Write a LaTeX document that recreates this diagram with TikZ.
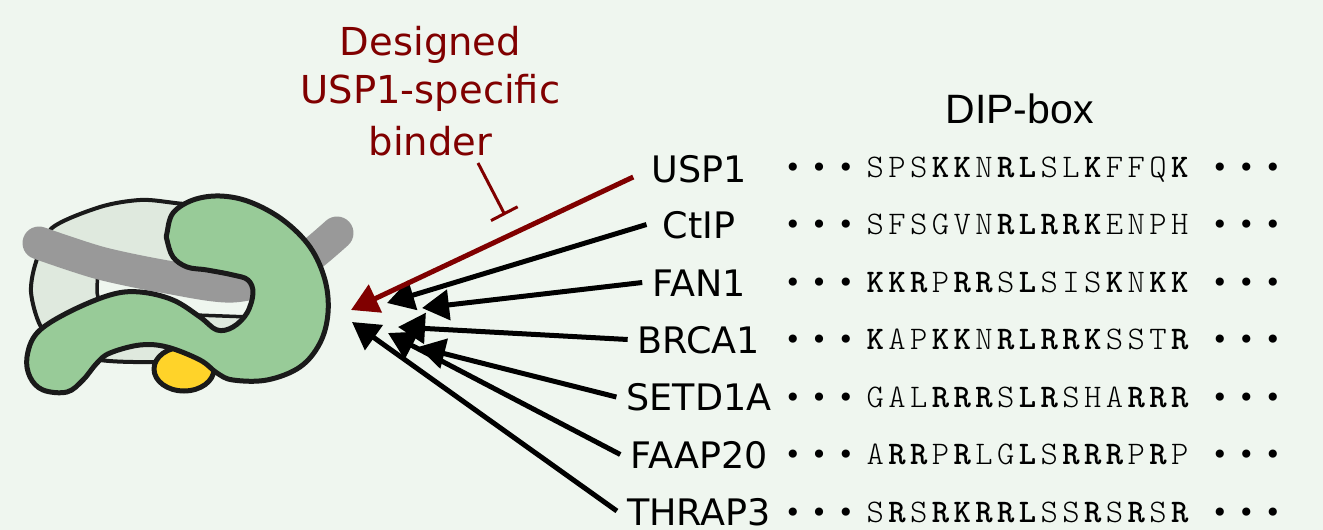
\documentclass[tikz,border=0pt]{standalone}
\usepackage{fontspec}
\usetikzlibrary{arrows.meta}

\newfontfamily\labelfont{DejaVu Sans}
\newfontfamily\headfont{Liberation Sans}

\definecolor{bgmint}{RGB}{239,246,239}
\definecolor{palebody}{RGB}{223,233,222}
\definecolor{protgreen}{RGB}{152,203,152}
\definecolor{linkergrey}{RGB}{153,153,153}
\definecolor{yolk}{RGB}{255,211,41}
\definecolor{inkdark}{RGB}{26,26,26}
\definecolor{binderred}{RGB}{128,0,0}

% fixed-pitch residue columns
\newlength\respitch \setlength\respitch{21.75pt}
\newlength\dotpitch \setlength\dotpitch{26.5pt}
\makeatletter
\newcommand\resrun[2]{\@tfor\res@ch:=#2\do{\makebox[#1]{\res@ch}}}
\makeatother
\newcommand\resN[1]{{\fontseries{l}\selectfont\resrun{\respitch}{#1}}}
\newcommand\resB[1]{{\fontseries{b}\selectfont\resrun{\respitch}{#1}}}
\newcommand\elide{{\labelfont\fontsize{28}{28}\selectfont\raisebox{-0.4pt}{\resrun{\dotpitch}{•••}}}}

\begin{document}
\begin{tikzpicture}[x=1pt,y=-1pt,
  outlined/.style={draw=inkdark, line join=round},
  gene/.style={font=\labelfont\fontsize{36.5}{36.5}\selectfont, inner xsep=10pt,
    inner ysep=0pt, text height=27pt, text depth=0pt, anchor=base},
  seqrow/.style={font=\fontfamily{lmtt}\fontsize{33}{33}\selectfont,
    inner sep=0pt, anchor=base west},
  titleline/.style={font=\labelfont\fontsize{38.5}{38.5}\selectfont,
    text=binderred, inner sep=0pt, anchor=base},
  blackarrow/.style={draw=black, line width=5pt, -{Triangle[length=27pt,width=30pt]}},
  redarrow/.style={draw=binderred, line width=5pt, -{Triangle[length=27pt,width=30pt]}},
]
\useasboundingbox (0,0) rectangle (1323,530);
\fill[bgmint] (0,0) rectangle (1323,530);

% ---- protein cartoon ----
% pale core domain
\draw[outlined, fill=palebody, line width=4pt] plot[smooth cycle] coordinates
  {(31,292) (36,262) (52,228) (100,207) (140,200) (175,203) (260,215) (310,250)
   (325,290) (305,335) (250,358) (157,362) (100,360) (60,348) (40,325)};
% lighter inner face
\draw[outlined, fill=bgmint, line width=3.5pt]
  (98,262) -- (97,290) .. controls (97,306) and (110,312) .. (140,313)
  -- (250,317) -- (258,288) -- (167,277) -- cycle;
% grey linker
\draw[linkergrey, line width=33pt, line cap=round] plot[smooth] coordinates
  {(39,243) (100,263) (167,277) (233,286) (290,270) (337,233)};
% yellow lobe
\draw[outlined, fill=yolk, line width=5pt] (184,369) ellipse [x radius=30, y radius=22];
% green hook domain
\draw[outlined, fill=protgreen, line width=5pt] plot[smooth cycle, tension=0.6] coordinates
  {(167,233) (173,213) (193,200) (220,196) (250,202) (283,220) (310,247) (325,280)
   (328,313) (320,343) (300,367) (267,380) (233,380) (217,373) (200,360) (167,347)
   (140,345) (110,353) (97,363) (83,380) (67,392) (43,390) (30,377) (27,357)
   (37,333) (67,313) (110,295) (140,292) (173,300) (200,317) (217,330) (233,327)
   (247,313) (253,293) (248,280) (233,275) (207,270) (187,267) (173,257) (167,240)};

% ---- binder label and inhibition mark ----
\node[titleline] (t1) at (430.5,55) {Designed};
\node[titleline] (t2) at (430.5,103) {USP1-specific};
\node[titleline] (t3) at (430.5,155) {binder};
\coordinate (inhS) at (478,163);
\coordinate (inhE) at (505,215);
\draw[binderred, line width=3pt, -{Bar[width=30pt,line width=3pt]}] (inhS) -- (inhE);

% ---- DIP-box header ----
\node[font=\headfont\fontsize{41}{41}\selectfont, inner sep=0pt, anchor=base]
  (dip) at (1019.5,123) {DIP-box};

% ---- protein names ----
\node[gene] (usp1)   at (699,182) {USP1};
\node[gene] (ctip)   at (699,238) {CtIP};
\node[gene] (fan1)   at (699,296) {FAN1};
\node[gene] (brca1)  at (699,353) {BRCA1};
\node[gene] (setd1a) at (699,410.5) {SETD1A};
\node[gene] (faap20) at (699,468) {FAAP20};
\node[gene] (thrap3) at (699,525) {THRAP3};

% ---- sequences ----
\foreach \yb/\nm in {177/a,234.5/b,292/c,349.5/d,407/e,464.5/f,522/g}{
  \node[seqrow] (dl\nm) at (779.3,\yb) {\elide};
  \node[seqrow] (dr\nm) at (1206.5,\yb) {\elide};
}
\node[seqrow] (sa) at (864.1,177)   {\resN{SPS}\resB{KK}\resN{N}\resB{RL}\resN{SL}\resB{K}\resN{FFQ}\resB{K}};
\node[seqrow] (sb) at (864.1,234.5) {\resN{SFSGVN}\resB{RLRRK}\resN{ENPH}};
\node[seqrow] (sc) at (864.1,292)   {\resB{KKR}\resN{P}\resB{RR}\resN{S}\resB{L}\resN{SIS}\resB{K}\resN{N}\resB{KK}};
\node[seqrow] (sd) at (864.1,349.5) {\resB{K}\resN{AP}\resB{KK}\resN{N}\resB{RLRRK}\resN{SST}\resB{R}};
\node[seqrow] (se) at (864.1,407)   {\resN{GAL}\resB{RRR}\resN{S}\resB{LR}\resN{SHA}\resB{RRR}};
\node[seqrow] (sf) at (864.1,464.5) {\resN{A}\resB{RR}\resN{P}\resB{R}\resN{LG}\resB{L}\resN{S}\resB{RRR}\resN{P}\resB{R}\resN{P}};
\node[seqrow] (sg) at (864.1,522)   {\resN{S}\resB{R}\resN{S}\resB{RKRRL}\resN{SS}\resB{R}\resN{S}\resB{R}\resN{S}\resB{R}};

% ---- arrows into the protein ----
\coordinate (tipU) at (351,310);
\coordinate (tipC) at (387,303);
\coordinate (tipF) at (422,308);
\coordinate (tipB) at (398,327);
\coordinate (tipS) at (418,347);
\coordinate (tipA) at (388,333);
\coordinate (tipT) at (352,322);

\draw[blackarrow] ([yshift=0.5pt]thrap3.west) -- (tipT);
\draw[blackarrow] (faap20.west) -- (tipA);
\draw[blackarrow] (setd1a.west) -- (tipS);
\draw[blackarrow] (brca1.west) -- (tipB);
\draw[blackarrow] (fan1.west) -- (tipF);
\draw[blackarrow] ([xshift=-6pt]ctip.west) -- (tipC);
\draw[redarrow] ([shift={(-8,8.5)}]usp1.west) -- (tipU);
\end{tikzpicture}
\end{document}
